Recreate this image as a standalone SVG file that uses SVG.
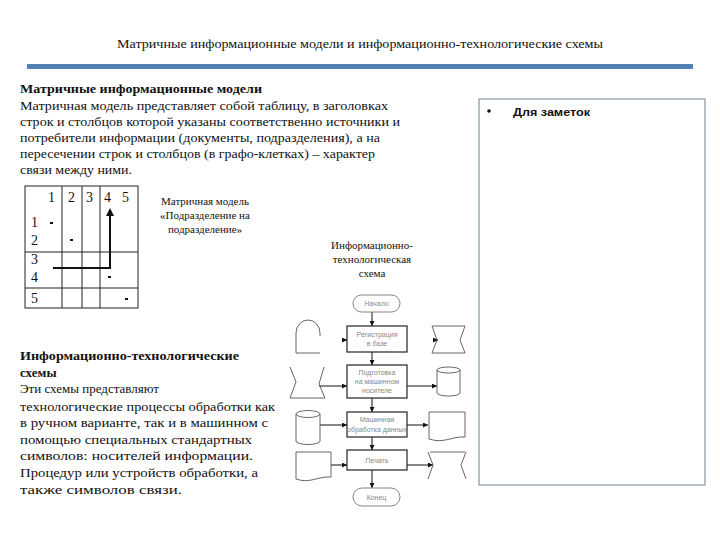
<svg xmlns="http://www.w3.org/2000/svg" width="720" height="540" viewBox="0 0 720 540">
<style>
.t{font-family:"Liberation Serif","Times New Roman",serif;fill:#111}
.b{font-weight:bold}
.p{font-size:13px}
.c{font-size:11px;text-anchor:middle}
.n{font-size:14px}
.f{font-family:"Liberation Sans",Arial,sans-serif;font-size:7px;fill:#888;text-anchor:middle}
.box{fill:#fff;stroke:#222;stroke-width:1.2}
.sh{fill:none;stroke:#555;stroke-width:0.9}
.tm{fill:#fff;stroke:#777;stroke-width:0.9}
.ln{stroke:#111;stroke-width:1;fill:none}
</style>
<defs>
<marker id="ah" viewBox="0 0 8 8" refX="8" refY="4" markerWidth="5" markerHeight="5" orient="auto">
<path d="M0,0 L8,4 L0,8 z" fill="#111"/>
</marker>
<marker id="ahb" viewBox="0 0 8 8" refX="6" refY="4" markerWidth="4" markerHeight="4" orient="auto">
<path d="M0,0 L8,4 L0,8 z" fill="#111"/>
</marker>
</defs>
<rect width="720" height="540" fill="#fff"/>

<g id="title">
<text class="t" x="360" y="48" font-size="11.5" text-anchor="middle" textLength="486" lengthAdjust="spacingAndGlyphs">Матричные информационные модели и информационно-технологические схемы</text>
<rect x="27" y="64" width="666" height="5" fill="#5281b5"/>
</g>

<g id="matrix-text">
<text class="t p b" x="20" y="93" textLength="242" lengthAdjust="spacingAndGlyphs">Матричные информационные модели</text>
<text class="t p" x="20" y="110" textLength="368" lengthAdjust="spacingAndGlyphs">Матричная модель представляет собой таблицу, в заголовках</text>
<text class="t p" x="20" y="126" textLength="380" lengthAdjust="spacingAndGlyphs">строк и столбцов которой указаны соответственно источники и</text>
<text class="t p" x="20" y="142" textLength="360" lengthAdjust="spacingAndGlyphs">потребители информации (документы, подразделения), а на</text>
<text class="t p" x="20" y="158" textLength="355" lengthAdjust="spacingAndGlyphs">пересечении строк и столбцов (в графо-клетках) – характер</text>
<text class="t p" x="20" y="174" textLength="112" lengthAdjust="spacingAndGlyphs">связи между ними.</text>
</g>

<g id="matrix">
<rect x="25" y="186" width="113" height="122" fill="none" stroke="#222" stroke-width="1"/>
<line x1="62" y1="186" x2="62" y2="308" stroke="#222"/>
<line x1="82" y1="186" x2="82" y2="308" stroke="#222"/>
<line x1="100" y1="186" x2="100" y2="308" stroke="#222"/>
<line x1="25" y1="252" x2="138" y2="252" stroke="#222"/>
<line x1="25" y1="288" x2="138" y2="288" stroke="#222"/>
<text class="t n" x="48" y="202">1</text>
<text class="t n" x="68" y="202">2</text>
<text class="t n" x="86" y="202">3</text>
<text class="t n" x="104" y="202">4</text>
<text class="t n" x="122" y="202">5</text>
<text class="t n" x="31" y="227">1</text>
<text class="t n" x="31" y="245">2</text>
<text class="t n" x="31" y="264">3</text>
<text class="t n" x="31" y="282">4</text>
<text class="t n" x="31" y="303">5</text>
<rect x="50" y="222" width="3" height="2" fill="#111"/>
<rect x="70" y="239" width="3" height="2" fill="#111"/>
<rect x="108" y="276" width="3" height="2" fill="#111"/>
<rect x="125" y="298" width="3" height="2" fill="#111"/>
<path d="M53,268 H110 V210" fill="none" stroke="#111" stroke-width="2" marker-end="url(#ahb)"/>
</g>

<g id="matrix-caption">
<text class="t c" x="205" y="205">Матричная модель</text>
<text class="t c" x="205" y="219">«Подразделение на</text>
<text class="t c" x="205" y="233">подразделение»</text>
</g>

<g id="flow-caption">
<text class="t c" x="372" y="249" font-size="10.5">Информационно-</text>
<text class="t c" x="372" y="263" font-size="10.5">технологическая</text>
<text class="t c" x="372" y="277" font-size="10.5">схема</text>
</g>

<g id="notes">
<rect x="479" y="99" width="226" height="386" fill="#fff" stroke="#6a8190" stroke-width="1"/>
<circle cx="489" cy="111" r="1.8" fill="#111"/>
<text x="513" y="116" font-family="'Liberation Sans',Arial,sans-serif" font-size="11.5" font-weight="bold" fill="#111" textLength="77" lengthAdjust="spacingAndGlyphs">Для заметок</text>
</g>

<g id="its-text">
<text class="t p b" x="20" y="360" textLength="219" lengthAdjust="spacingAndGlyphs">Информационно-технологические</text>
<text class="t p b" x="20" y="377">схемы</text>
<text class="t p" x="20" y="393">Эти схемы представляют</text>
<text class="t p" x="20" y="411" textLength="255" lengthAdjust="spacingAndGlyphs">технологические процессы обработки как</text>
<text class="t p" x="20" y="427" textLength="248" lengthAdjust="spacingAndGlyphs">в ручном варианте, так и в машинном с</text>
<text class="t p" x="20" y="444" textLength="232" lengthAdjust="spacingAndGlyphs">помощью специальных стандартных</text>
<text class="t p" x="20" y="460" textLength="233" lengthAdjust="spacingAndGlyphs">символов: носителей информации.</text>
<text class="t p" x="20" y="477" textLength="238" lengthAdjust="spacingAndGlyphs">Процедур или устройств обработки, а</text>
<text class="t p" x="20" y="494" textLength="162" lengthAdjust="spacingAndGlyphs">также символов связи.</text>
</g>

<g id="connectors">
<line class="ln" x1="372" y1="312" x2="372" y2="326" marker-end="url(#ah)"/>
<line class="ln" x1="372" y1="352" x2="372" y2="365" marker-end="url(#ah)"/>
<line class="ln" x1="372" y1="398" x2="372" y2="412" marker-end="url(#ah)"/>
<line class="ln" x1="372" y1="437" x2="372" y2="450" marker-end="url(#ah)"/>
<line class="ln" x1="372" y1="470" x2="372" y2="488" marker-end="url(#ah)"/>
<line class="ln" x1="342" y1="340" x2="347" y2="340" marker-end="url(#ah)"/>
<line class="ln" x1="433" y1="340" x2="438" y2="340" marker-end="url(#ah)"/>
<line class="ln" x1="319" y1="386" x2="347" y2="386" marker-end="url(#ah)"/>
<line class="ln" x1="407" y1="386" x2="437" y2="386" marker-end="url(#ah)"/>
<line class="ln" x1="320" y1="425" x2="347" y2="425" marker-end="url(#ah)"/>
<line class="ln" x1="407" y1="425" x2="428" y2="425" marker-end="url(#ah)"/>
<line class="ln" x1="331" y1="465" x2="347" y2="465" marker-end="url(#ah)"/>
<line class="ln" x1="407" y1="465" x2="433" y2="465" marker-end="url(#ah)"/>
</g>

<g id="start">
<rect class="tm" x="353" y="295" width="47" height="17" rx="8.5"/>
<text class="f" x="376.5" y="306">Начало</text>
</g>
<g id="register">
<rect class="box" x="347" y="326" width="60" height="26"/>
<text class="f" x="377" y="337">Регистрация</text>
<text class="f" x="377" y="346">в базе</text>
</g>
<g id="prepare">
<rect class="box" x="347" y="365" width="60" height="33"/>
<text class="f" x="377" y="375">Подготовка</text>
<text class="f" x="377" y="384">на машинном</text>
<text class="f" x="377" y="393">носителе</text>
</g>
<g id="process">
<rect class="box" x="347" y="412" width="60" height="25"/>
<text class="f" x="377" y="422">Машинная</text>
<text class="f" x="377" y="432">обработка данных</text>
</g>
<g id="print">
<rect class="box" x="347" y="450" width="60" height="20"/>
<text class="f" x="377" y="463">Печать</text>
</g>
<g id="end">
<rect class="tm" x="353" y="488" width="47" height="18" rx="9"/>
<text class="f" x="376.5" y="500">Конец</text>
</g>

<g id="manual-input">
<path class="sh" d="M320,353 H296 V333 A12,13 0 0 1 320,333 V336"/>
</g>
<g id="display-1">
<path class="sh" d="M432,326 H465 M432,353 H465 M432,326 L437,340 L432,353 M465,326 L460,340 L465,353"/>
</g>
<g id="manual-op">
<path class="sh" d="M290,367 L296,382 L290,398 H325 L319,384 L324,367"/>
</g>
<g id="disk-1">
<path class="sh" d="M437,370 V393 A11.5,3 0 0 0 460,393 V370"/>
<ellipse class="sh" cx="448.5" cy="370" rx="11.5" ry="3"/>
</g>
<g id="disk-2">
<path class="sh" d="M296,414 V441 A12,3.5 0 0 0 320,441 V414"/>
<ellipse class="sh" cx="308" cy="414" rx="12" ry="3.5"/>
</g>
<g id="document-1">
<path class="sh" d="M429,412 H465 V437 C452,436 444,444 429,439 Z"/>
</g>
<g id="document-2">
<path class="sh" d="M296,452 H331 V477 C318,476 310,484 296,479 Z"/>
</g>
<g id="display-2">
<path class="sh" d="M430,452 H465 M428,452 L433,465 L428,479 M466,452 L461,465 L466,479"/>
</g>
</svg>
